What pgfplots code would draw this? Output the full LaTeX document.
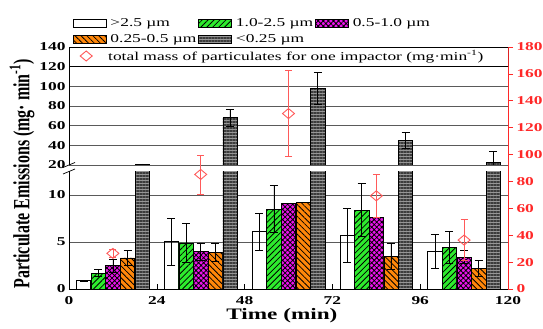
\documentclass[border=0pt]{standalone}
\usepackage{pgfplots}
\pgfplotsset{compat=1.18}
\usepackage{fontspec}
\setmainfont{Liberation Serif}
\usetikzlibrary{patterns.meta}
\definecolor{cgreen}{RGB}{45,235,45}
\definecolor{cmag}{RGB}{235,20,235}
\definecolor{corange}{RGB}{255,135,10}
\definecolor{cdark}{RGB}{150,150,150}
\definecolor{cdarkline}{RGB}{60,60,60}
\definecolor{cred}{RGB}{255,90,90}
\definecolor{caxred}{RGB}{255,40,40}
\definecolor{cgrid}{RGB}{90,90,90}
\newcommand{\sx}[1]{\scalebox{1.45}[1]{#1}}
\newcommand{\tickfont}{\bfseries\fontsize{12}{12}\selectfont}

\pgfplotsset{
  boxlegend/.style={legend image code/.code={\draw[##1] (0pt,-4pt) rectangle (33pt,4pt);}},
  sWhite/.style={draw=black, fill=none, line width=0.6pt},
  sGreen/.style={draw=black, fill=cgreen, line width=0.6pt, postaction={pattern={Lines[angle=45,distance=4.2pt,line width=0.8pt]}, pattern color=black}},
  sMag/.style={draw=black, fill=cmag, line width=0.6pt, postaction={pattern={Hatch[angle=45,distance=3.6pt,line width=0.8pt]}, pattern color=black}},
  sOrange/.style={draw=black, fill=corange, line width=0.6pt, postaction={pattern={Lines[angle=-45,distance=4.2pt,line width=0.8pt]}, pattern color=black}},
  sDark/.style={draw=black, fill=cdark, line width=0.6pt, postaction={pattern={Lines[angle=0,distance=3pt,line width=1.1pt]}, pattern color=cdarkline}},
  bars/.style={ybar, bar width=3.9, bar shift=0pt},
  eb/.style={error bars/.cd, y dir=both, y explicit, error bar style={black, line width=0.6pt}, error mark options={rotate=90, black, mark size=4pt, line width=0.6pt}},
}

\begin{document}
\begin{tikzpicture}
\useasboundingbox (0pt,0pt) rectangle (543pt,329pt);

% ---------- lower part of the broken left axis ----------
\begin{axis}[
  name=lower, at={(69pt,40pt)}, anchor=south west, scale only axis,
  width=439pt, height=117.5pt,
  xmin=0, xmax=120, ymin=0, ymax=12.5,
  axis x line*=bottom, axis y line*=left,
  axis line style={black, line width=0.7pt},
  xtick={0,24,...,120}, ytick={0,5,10},
  tick align=inside, major tick length=5pt,
  xtick style={black, line width=0.6pt}, ytick style={draw=none},
  ymajorgrids, major grid style={cgrid, line width=0.6pt},
  tick label style={font=\tickfont},
  xticklabel={\sx{\pgfmathprintnumber[assume math mode=true]{\tick}}},
  yticklabel={\sx{\pgfmathprintnumber[assume math mode=true]{\tick}}},
  xticklabel style={yshift=-4pt},
  xlabel={\sx{Time (min)}},
  xlabel style={font=\bfseries\fontsize{16}{16}\selectfont, at={(axis description cs:0.485,0)}, anchor=center, yshift=-27pt},
  ylabel={\scalebox{1}[1.45]{Particulate Emissions (mg· min\textsuperscript{-1})}},
  ylabel style={font=\bfseries\fontsize{16}{16}\selectfont, at={(axis description cs:-0.107,0.98)}, anchor=center},
]
\addplot[bars, sWhite, eb] coordinates {(4,0.9) +- (0,0.05) (28,5.05) +- (0,2.5) (52,6.1) +- (0,2.0) (76,5.7) +- (0,2.85) (100,4.0) +- (0,1.8)};
\addplot[bars, sGreen, eb] coordinates {(8,1.7) +- (0,0.4) (32,4.9) +- (0,2.1) (56,8.5) +- (0,2.5) (80,8.4) +- (0,2.8) (104,4.4) +- (0,1.7)};
\addplot[bars, sMag, eb] coordinates {(12,2.5) +- (0,0.7) (36,4.0) +- (0,0.9) (60,9.1) +- (0,0) (84,7.6) +- (0,0) (108,3.4) +- (0,0.7)};
\addplot[bars, sOrange, eb] coordinates {(16,3.3) +- (0,0.8) (40,3.9) +- (0,1.0) (64,9.2) +- (0,0) (88,3.5) +- (0,1.4) (112,2.2) +- (0,0.8)};
\addplot[bars, sDark] coordinates {(20,20.8) (44,68) (68,98) (92,45.4) (116,23)};
\end{axis}

% ---------- upper part of the broken left axis ----------
\begin{axis}[
  name=upper, at={(69pt,164pt)}, anchor=south west, scale only axis,
  width=439pt, height=118pt,
  xmin=0, xmax=120, ymin=20, ymax=140,
  axis x line*=top, axis y line*=left,
  axis line style={black, line width=0.7pt},
  xtick=\empty, ytick={20,40,...,140}, ytick style={draw=none},
  ymajorgrids, major grid style={cgrid, line width=0.6pt},
  tick label style={font=\tickfont},
  yticklabel={\sx{\pgfmathprintnumber[assume math mode=true]{\tick}}},
  boxlegend,
  legend columns=3,
  legend style={at={(axis description cs:0.0084,1)}, anchor=south west, yshift=3pt,
    draw=none, fill=none, inner sep=0pt, column sep=0pt, row sep=6pt,
    cells={anchor=west}, nodes={inner sep=0pt}, font=\fontsize{12}{12}\selectfont,
    /tikz/every even column/.append style={column sep=2pt}},
]
\addlegendimage{sWhite}
\addlegendentry{\hspace*{4pt}\sx{>2.5 µm}}
\addlegendimage{sGreen}
\addlegendentry{\hspace*{4pt}\sx{1.0-2.5 µm}}
\addlegendimage{sMag}
\addlegendentry{\hspace*{4pt}\sx{0.5-1.0 µm}}
\addlegendimage{sOrange}
\addlegendentry{\hspace*{4pt}\sx{0.25-0.5 µm}}
\addplot[bars, sDark, boxlegend, eb] coordinates {(20,20.8) +- (0,0.4) (44,68) +- (0,8.6) (68,98) +- (0,16) (92,45.4) +- (0,8) (116,23) +- (0,10.5)};
\addlegendentry{\hspace*{4pt}\sx{<0.25 µm}}
\end{axis}

% ---------- right axis: total mass ----------
\begin{axis}[
  at={(69pt,40pt)}, anchor=south west, scale only axis,
  width=439pt, height=242pt,
  xmin=0, xmax=120, ymin=0, ymax=180,
  axis x line=none, axis y line*=right,
  y axis line style={caxred, line width=0.7pt},
  ytick={0,20,...,180}, tick align=outside, major tick length=5pt,
  ytick style={caxred, line width=0.7pt},
  tick label style={font=\tickfont, text=caxred},
  yticklabel={\sx{\pgfmathprintnumber[assume math mode=true]{\tick}}},
  legend style={at={(axis description cs:0,0.9628)}, anchor=west, xshift=11pt,
    draw=none, fill=none, inner sep=0pt, nodes={inner sep=0pt}, cells={anchor=west},
    font=\fontsize{12}{12}\selectfont},
]
% white legend box spanning the plot width
\draw[black, line width=0.6pt, fill=white] (rel axis cs:0,1) rectangle (rel axis cs:1,0.9186);
\addplot[only marks, mark=diamond, mark size=5pt,
  mark options={xscale=1.6, fill=white, draw=cred, line width=0.9pt},
  error bars/.cd, y dir=both, y explicit,
  error bar style={draw=cred, line width=0.8pt},
  error mark options={rotate=90, draw=cred, mark size=3.5pt, line width=0.8pt}]
  coordinates {(12,26.5) +- (0,3.3) (36,85.2) +- (0,14.5) (60,130.5) +- (0,32) (84,69.3) +- (0,16) (108,36.4) +- (0,15)};
\addlegendentry{\hspace*{16pt}\sx{total mass of particulates for one impactor (mg·min\textsuperscript{-1})}}
\end{axis}

% break marks on the left axis
\draw[black, line width=0.7pt] (63pt,155pt) -- (75pt,160pt);
\draw[black, line width=0.7pt] (63pt,161.5pt) -- (75pt,166.5pt);
\end{tikzpicture}
\end{document}
